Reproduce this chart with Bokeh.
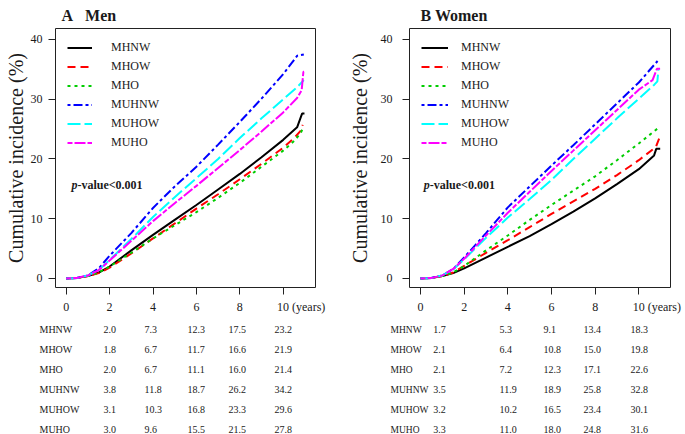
from bokeh.plotting import figure
from bokeh.models import Range1d, FixedTicker, Label, Legend, LegendItem, ColumnDataSource
from bokeh.layouts import row, column
from bokeh.embed import file_html
from bokeh.resources import INLINE
from bokeh.core.properties import value

# ---------------- data ----------------
GROUPS = ["MHNW", "MHOW", "MHO", "MUHNW", "MUHOW", "MUHO"]
X_TICKS = [0, 2, 4, 6, 8, 10]
Y_TICKS = [0, 10, 20, 30, 40]
X_UNIT = "(years)"

# Panel A: Men (cumulative incidence curves, %)
MEN_MHNW_T = [0, 0.5, 1, 1.5, 2, 3, 4, 5, 6, 7, 8, 9, 10, 10.64, 10.87, 10.98]
MEN_MHNW_Y = [0, 0.1, 0.4, 1.0, 2.0, 4.7, 7.3, 9.8, 12.3, 14.9, 17.5, 20.3, 23.2, 25.3, 27.6, 27.6]
MEN_MHOW_T = [0, 0.5, 1, 1.5, 2, 3, 4, 5, 6, 7, 8, 9, 10, 10.5, 10.8, 10.9]
MEN_MHOW_Y = [0, 0.1, 0.4, 0.9, 1.8, 4.2, 6.7, 9.2, 11.7, 14.1, 16.6, 19.2, 21.9, 23.5, 24.7, 25.7]
MEN_MHO_T = [0, 0.5, 1, 1.5, 2, 3, 4, 5, 6, 7, 8, 9, 10, 10.5, 10.8, 10.9]
MEN_MHO_Y = [0, 0.1, 0.4, 1.0, 2.0, 4.3, 6.7, 8.9, 11.1, 13.5, 16.0, 18.7, 21.4, 23.0, 24.3, 25.1]
MEN_MUHNW_T = [0, 0.5, 1, 1.5, 2, 3, 4, 5, 6, 7, 8, 9, 10, 10.65, 10.95]
MEN_MUHNW_Y = [0, 0.1, 0.5, 1.7, 3.8, 7.6, 11.8, 15.4, 18.7, 22.4, 26.2, 30.1, 34.2, 37.3, 37.5]
MEN_MUHOW_T = [0, 0.5, 1, 1.5, 2, 3, 4, 5, 6, 7, 8, 9, 10, 10.64, 10.95]
MEN_MUHOW_Y = [0, 0.1, 0.5, 1.4, 3.1, 6.6, 10.3, 13.6, 16.8, 20.0, 23.5, 26.8, 30.0, 32.0, 33.2]
MEN_MUHO_T = [0, 0.5, 1, 1.5, 2, 3, 4, 5, 6, 7, 8, 9, 10, 10.64, 10.85, 10.93, 10.98]
MEN_MUHO_Y = [0, 0.1, 0.5, 1.4, 3.0, 6.3, 9.6, 12.6, 15.5, 18.5, 21.5, 24.6, 27.8, 30.2, 31.5, 34.6, 34.6]

# Panel B: Women
WOM_MHNW_T = [0, 0.5, 1, 1.5, 2, 3, 4, 5, 6, 7, 8, 9, 10, 10.7, 10.8, 10.98]
WOM_MHNW_Y = [0, 0.1, 0.4, 0.9, 1.7, 3.5, 5.3, 7.1, 9.1, 11.2, 13.4, 15.8, 18.3, 20.6, 21.7, 21.7]
WOM_MHOW_T = [0, 0.5, 1, 1.5, 2, 3, 4, 5, 6, 7, 8, 9, 10, 10.78, 10.93]
WOM_MHOW_Y = [0, 0.1, 0.4, 1.0, 2.1, 4.3, 6.4, 8.6, 10.8, 12.9, 15.0, 17.3, 19.8, 22.0, 23.4]
WOM_MHO_T = [0, 0.5, 1, 1.5, 2, 3, 4, 5, 6, 7, 8, 9, 10, 10.93]
WOM_MHO_Y = [0, 0.1, 0.4, 1.0, 2.1, 4.7, 7.2, 9.8, 12.3, 14.7, 17.1, 19.8, 22.6, 25.3]
WOM_MUHNW_T = [0, 0.5, 1, 1.5, 2, 3, 4, 5, 6, 7, 8, 9, 10, 10.55, 10.86]
WOM_MUHNW_Y = [0, 0.1, 0.5, 1.6, 3.5, 7.6, 11.9, 15.4, 18.9, 22.3, 25.8, 29.3, 32.8, 35.1, 36.4]
WOM_MUHOW_T = [0, 0.5, 1, 1.5, 2, 3, 4, 5, 6, 7, 8, 9, 10, 10.7, 10.85, 10.9]
WOM_MUHOW_Y = [0, 0.1, 0.5, 1.5, 3.2, 6.8, 10.2, 13.3, 16.5, 20.0, 23.4, 26.8, 30.1, 32.4, 33.0, 35.0]
WOM_MUHO_T = [0, 0.5, 1, 1.5, 2, 3, 4, 5, 6, 7, 8, 9, 10, 10.63, 10.83, 10.98]
WOM_MUHO_Y = [0, 0.1, 0.5, 1.6, 3.3, 7.2, 11.0, 14.5, 18.0, 21.4, 24.8, 28.2, 31.6, 33.2, 35.1, 35.1]

# Tables (values at 2, 4, 6, 8, 10 years)
MEN_TAB_MHNW = [2.0, 7.3, 12.3, 17.5, 23.2]
MEN_TAB_MHOW = [1.8, 6.7, 11.7, 16.6, 21.9]
MEN_TAB_MHO = [2.0, 6.7, 11.1, 16.0, 21.4]
MEN_TAB_MUHNW = [3.8, 11.8, 18.7, 26.2, 34.2]
MEN_TAB_MUHOW = [3.1, 10.3, 16.8, 23.3, 29.6]
MEN_TAB_MUHO = [3.0, 9.6, 15.5, 21.5, 27.8]

WOM_TAB_MHNW = [1.7, 5.3, 9.1, 13.4, 18.3]
WOM_TAB_MHOW = [2.1, 6.4, 10.8, 15.0, 19.8]
WOM_TAB_MHO = [2.1, 7.2, 12.3, 17.1, 22.6]
WOM_TAB_MUHNW = [3.5, 11.9, 18.9, 25.8, 32.8]
WOM_TAB_MUHOW = [3.2, 10.2, 16.5, 23.4, 30.1]
WOM_TAB_MUHO = [3.3, 11.0, 18.0, 24.8, 31.6]

# ---------------- style / layout ----------------
FONT = "Liberation Serif"
TXT = "#1a1a1a"
COLORS = ["#000000", "#FF0000", "#00CD00", "#0000FF", "#00FFFF", "#FF00FF"]
DASHES = ["solid", "8 5", "3 4", "3 3 9 3", "13 4", "5 2 11 2"]
Y_RANGE = (-1.51, 41.84)
PLOT_H = 317
TABLE_H = 117
PAD = "\u2003\u2003\u2003"   # keeps "10" centred on its tick while "(years)" trails


def make_plot(title, title_offset, ts, ys, x_range, width, mbl, mbr,
              tick_standoff, label_standoff, glyph_w, leg_standoff, pval_x):
    p = figure(width=width, height=PLOT_H, x_range=Range1d(*x_range),
               y_range=Range1d(*Y_RANGE), output_backend="svg", toolbar_location=None,
               min_border_left=mbl, min_border_right=mbr, min_border_top=28,
               min_border_bottom=PLOT_H - 287, frame_align=False)
    p.title.text = title
    p.title.text_font = FONT
    p.title.text_font_size = "16px"
    p.title.text_font_style = "bold"
    p.title.text_color = TXT
    p.title.align = "left"
    p.title.offset = title_offset
    p.title.standoff = 9
    p.grid.visible = False
    p.outline_line_color = "#222222"
    p.outline_line_width = 1
    p.background_fill_color = "white"
    p.border_fill_color = "white"

    p.xaxis.ticker = FixedTicker(ticks=X_TICKS)
    p.yaxis.ticker = FixedTicker(ticks=Y_TICKS)
    for ax in (p.xaxis[0], p.yaxis[0]):
        ax.axis_line_color = None
        ax.major_tick_in = 0
        ax.major_tick_out = 7
        ax.major_tick_line_color = "#222222"
        ax.minor_tick_line_color = None
        ax.major_label_text_font = FONT
        ax.major_label_text_font_size = "12px"
        ax.major_label_text_color = TXT
    last = X_TICKS[-1]
    p.xaxis.major_label_overrides = {last: f"{PAD}{last} {X_UNIT}"}
    p.xaxis.major_label_standoff = 5
    p.yaxis.major_label_standoff = tick_standoff
    p.yaxis.axis_label = "Cumulative incidence (%)"
    p.yaxis.axis_label_text_font = FONT
    p.yaxis.axis_label_text_font_size = "20px"
    p.yaxis.axis_label_text_font_style = "normal"
    p.yaxis.axis_label_text_color = TXT
    p.yaxis.axis_label_standoff = label_standoff

    items = []
    for g, t, y, c, d in zip(GROUPS, ts, ys, COLORS, DASHES):
        r = p.line(t, y, line_color=c, line_width=2, line_dash=d)
        items.append(LegendItem(label=g, renderers=[r]))
    leg = Legend(items=items, location="top_left", margin=12, padding=0,
                 spacing=4, glyph_width=glyph_w, glyph_height=13, label_height=13,
                 label_standoff=leg_standoff, border_line_alpha=0,
                 background_fill_alpha=0, label_text_font=FONT,
                 label_text_font_size="12px", label_text_color=TXT)
    p.add_layout(leg)

    p.add_layout(Label(x=pval_x, y=15.6, text="p", text_font=FONT,
                       text_font_size="12px", text_font_style="bold italic",
                       text_color=TXT, text_baseline="middle"))
    p.add_layout(Label(x=pval_x, y=15.6, x_offset=6, text="-value<0.001", text_font=FONT,
                       text_font_size="12px", text_font_style="bold",
                       text_color=TXT, text_baseline="middle"))
    return p


def make_table(width, label_x, col_x, tables, label_size):
    t = figure(width=width, height=TABLE_H, x_range=Range1d(0, width),
               y_range=Range1d(5.25, -0.6), output_backend="svg",
               toolbar_location=None, x_axis_location=None, y_axis_location=None,
               min_border_left=0, min_border_right=0, min_border_top=0,
               min_border_bottom=0, frame_align=False)
    t.grid.visible = False
    t.outline_line_color = None
    t.border_fill_color = "white"
    t.background_fill_color = "white"
    lx, ly, lt = [], [], []
    vx, vy, vt = [], [], []
    for i, (g, vals) in enumerate(zip(GROUPS, tables)):
        lx.append(label_x); ly.append(i); lt.append(g)
        for cx, v in zip(col_x, vals):
            vx.append(cx); vy.append(i); vt.append(f"{v:.1f}")
    t.text(x="x", y="y", text="text", source=ColumnDataSource(dict(x=lx, y=ly, text=lt)),
           text_font=value(FONT), text_font_size=label_size, text_align="left",
           text_baseline="middle", text_color=TXT)
    t.text(x="x", y="y", text="text", source=ColumnDataSource(dict(x=vx, y=vy, text=vt)),
           text_font=value(FONT), text_font_size="10px", text_align="left",
           text_baseline="middle", text_color=TXT)
    return t


pA = make_plot("A\u2002 Men", 6,
               [MEN_MHNW_T, MEN_MHOW_T, MEN_MHO_T, MEN_MUHNW_T, MEN_MUHOW_T, MEN_MUHO_T],
               [MEN_MHNW_Y, MEN_MHOW_Y, MEN_MHO_Y, MEN_MUHNW_Y, MEN_MUHOW_Y, MEN_MUHO_Y],
               (-0.493, 11.488), 340, 55, 25, 6, 1, 25, 19, 0.24)
pB = make_plot("B Women", 11,
               [WOM_MHNW_T, WOM_MHOW_T, WOM_MHO_T, WOM_MUHNW_T, WOM_MUHOW_T, WOM_MUHO_T],
               [WOM_MHNW_Y, WOM_MHOW_Y, WOM_MHO_Y, WOM_MUHNW_Y, WOM_MUHOW_Y, WOM_MUHO_Y],
               (-0.504, 11.452), 345, 69, 15, 10, 7, 27, 13, 0.15)

tA = make_table(340, 39, [103, 144, 187, 228, 274],
                [MEN_TAB_MHNW, MEN_TAB_MHOW, MEN_TAB_MHO, MEN_TAB_MUHNW, MEN_TAB_MUHOW, MEN_TAB_MUHO],
                "10px")
tB = make_table(345, 50, [92.7, 159, 203, 243, 290],
                [WOM_TAB_MHNW, WOM_TAB_MHOW, WOM_TAB_MHO, WOM_TAB_MUHNW, WOM_TAB_MUHOW, WOM_TAB_MUHO],
                "9.5px")

layout = row(column(pA, tA), column(pB, tB))
open("out.html", "w").write(file_html(layout, INLINE))
